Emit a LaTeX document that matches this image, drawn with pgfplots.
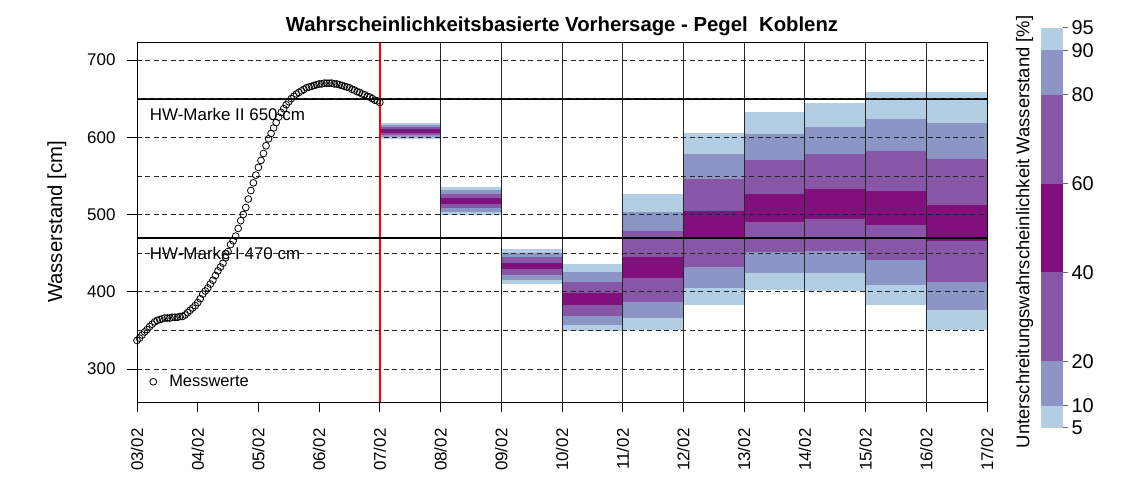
\documentclass[border=0pt]{standalone}
\usepackage{pgfplots}
\usepackage{pgfplotstable}
\pgfplotsset{compat=1.18}
\usepackage{fontspec}
\setmainfont{Liberation Sans}
\usetikzlibrary{calc}
\definecolor{cA}{HTML}{B3CDE3}
\definecolor{cB}{HTML}{8C96C6}
\definecolor{cC}{HTML}{8856A7}
\definecolor{cD}{HTML}{810F7C}

\pgfplotstableread{
d e q05 q10 q20 q40 q60 q80 q90 q95
4 5 597.7 600.3 602.9 605.1 610.7 613.3 615.9 618.9
5 6 499.7 503.6 508.0 513.6 521.0 526.5 531.7 535.2
6 7 410.4 415.2 421.3 429.1 437.6 444.6 449.8 454.9
7 8 349.6 357.3 368.2 383.2 398.0 412.6 425.5 435.9
8 9 350.5 365.6 387.1 417.4 445.3 478.6 503.6 526.5
9 10 382.8 404.5 431.6 471.0 504.5 546.0 578.3 605.9
10 11 402.3 424.0 451.1 490.3 526.5 570.6 604.2 632.3
11 12 401.4 424.0 453.1 493.8 532.6 578.3 613.7 643.9
12 13 382.8 409.1 441.1 486.4 530.4 582.2 623.6 658.6
13 14 350.5 376.4 413.0 465.5 512.3 571.8 618.8 659.0
}\boxdata

\pgfplotstableread{
h v
0 337
1 340
2 344
3 348
4 351
5 355
6 358
7 361
8 363
9 364
10 365
11 366
12 366
13 366
14 367
15 367
16 367
17 368
18 368
19 370
20 373
21 376
22 379
23 382
24 386
25 391
26 397
27 401
28 405
29 410
30 415
31 421
32 427
33 432
34 437
35 444
36 452
37 461
38 466
39 472
40 482
41 492
42 500
43 509
44 520
45 531
46 541
47 551
48 561
49 570
50 579
51 589
52 598
53 605
54 612
55 619
56 626
57 632
58 637
59 642
60 646
61 650
62 653
63 656
64 658
65 660
66 662
67 664
68 665
69 666
70 667
71 668
72 669
73 669
74 670
75 670
76 670
77 670
78 669
79 669
80 668
81 667
82 666
83 665
84 664
85 662
86 661
87 659
88 658
89 656
90 655
91 653
92 652
93 650
94 648
95 647
96 645
}\messdata

\newcommand{\getq}[2]{\pgfplotstablegetelem{#1}{#2}\of\boxdata\edef\tmpv{\pgfplotsretval}}

\begin{document}
\begin{tikzpicture}[font=\fontsize{17}{20}\selectfont]
\begin{axis}[name=ax, scale only axis, width=850bp, height=360bp,
  xmin=0, xmax=14, ymin=257.3, ymax=723.3,
  xtick={0,...,14},
  xticklabels={03/02,04/02,05/02,06/02,07/02,08/02,09/02,10/02,11/02,12/02,13/02,14/02,15/02,16/02,17/02},
  xticklabel style={rotate=90, anchor=east, font=\fontsize{17}{20}\selectfont},
  xticklabel shift=13bp,
  yticklabel shift=8bp,
  ytick={300,400,500,600,700}, minor ytick={350,450,550,650},
  ymajorgrids, yminorgrids,
  major grid style={black!85, line width=0.7bp, dash pattern=on 5bp off 3.5bp},
  minor grid style={black!85, line width=0.7bp, dash pattern=on 5bp off 3.5bp},
  tick pos=left, tick align=outside, major tick length=10bp, minor tick length=0pt,
  tick style={black, line width=0.8bp},
  axis line style={black, line width=0.8bp},
  axis on top,
  /pgf/number format/assume math mode=true,
  ylabel={Wasserstand [cm]},
  ylabel style={at={(axis description cs:-0.079,0.5)}, anchor=south, rotate=0, font=\fontsize{20.4}{24}\selectfont},
  title={Wahrscheinlichkeitsbasierte Vorhersage - Pegel~ Koblenz},
  title style={font=\fontsize{20.4}{24}\selectfont\bfseries, at={(axis description cs:0.5,1)}, anchor=south, yshift=-3bp},
  legend style={at={(axis description cs:0.006,0.024)}, anchor=south west, draw=none, fill=white, inner sep=3bp, font=\fontsize{16.5}{19}\selectfont},
  legend image code/.code={\path[draw=none, fill=none] (-8bp,-4bp) rectangle (14bp,4bp); \draw[#1] plot coordinates {(0bp,0bp)};},
  legend cell align=left,
  clip=true,
]
\pgfplotsinvokeforeach{0,...,9}{
  \getq{#1}{d}\let\xa\tmpv
  \getq{#1}{e}\let\xb\tmpv
  \getq{#1}{q05}\let\qa\tmpv
  \getq{#1}{q10}\let\qb\tmpv
  \getq{#1}{q20}\let\qc\tmpv
  \getq{#1}{q40}\let\qd\tmpv
  \getq{#1}{q60}\let\qe\tmpv
  \getq{#1}{q80}\let\qf\tmpv
  \getq{#1}{q90}\let\qg\tmpv
  \getq{#1}{q95}\let\qh\tmpv
  \edef\doit{%
   \noexpand\addplot[fill=cA, draw=none, forget plot] coordinates {(\xa,\qa) (\xb,\qa) (\xb,\qb) (\xa,\qb)};
   \noexpand\addplot[fill=cB, draw=none, forget plot] coordinates {(\xa,\qb) (\xb,\qb) (\xb,\qc) (\xa,\qc)};
   \noexpand\addplot[fill=cC, draw=none, forget plot] coordinates {(\xa,\qc) (\xb,\qc) (\xb,\qd) (\xa,\qd)};
   \noexpand\addplot[fill=cD, draw=none, forget plot] coordinates {(\xa,\qd) (\xb,\qd) (\xb,\qe) (\xa,\qe)};
   \noexpand\addplot[fill=cC, draw=none, forget plot] coordinates {(\xa,\qe) (\xb,\qe) (\xb,\qf) (\xa,\qf)};
   \noexpand\addplot[fill=cB, draw=none, forget plot] coordinates {(\xa,\qf) (\xb,\qf) (\xb,\qg) (\xa,\qg)};
   \noexpand\addplot[fill=cA, draw=none, forget plot] coordinates {(\xa,\qg) (\xb,\qg) (\xb,\qh) (\xa,\qh)};
  }\doit
}
% day separators
\pgfplotsinvokeforeach{5,...,13}{
  \addplot[black!85, line width=0.8bp, forget plot] coordinates {(#1,257.3) (#1,723.3)};
}
\addplot[red, line width=1.8bp, forget plot] coordinates {(4,257.3) (4,723.3)};
% HW marks
\addplot[black, line width=1.8bp, forget plot] coordinates {(0,650) (14,650)};
\addplot[black, line width=1.8bp, forget plot] coordinates {(0,470) (14,470)};
\node[anchor=west, inner sep=0pt] at (axis cs:0.21,630) {HW-Marke II 650 cm};
\node[anchor=west, inner sep=0pt] at (axis cs:0.21,450) {HW-Marke I 470 cm};
% measured
\addplot[only marks, mark=o, mark size=3.4bp, mark options={line width=0.8bp, black}] table[x expr=\thisrow{h}/24, y=v] {\messdata};
\addlegendentry{Messwerte}
\end{axis}
% colour scale
\begin{axis}[name=cb, scale only axis, width=22bp, height=400bp,
  at={($(ax.north east)+(54bp,14bp)$)}, anchor=north west,
  xmin=0, xmax=1, ymin=5, ymax=95,
  hide x axis, axis y line*=right,
  y axis line style={draw=none},
  ytick={5,10,20,40,60,80,90,95},
  yticklabel pos=right,
  yticklabel style={font=\fontsize{20}{24}\selectfont},
  tick align=outside, major tick length=5bp,
  ytick style={black!60, line width=1bp},
  /pgf/number format/assume math mode=true,
  ylabel={Unterschreitungswahrscheinlichkeit Wasserstand [\%]},
  ylabel style={at={(axis description cs:-0.2,0.49)}, anchor=south, rotate=0, font=\fontsize{18.5}{22}\selectfont},
]
\addplot[fill=cA, draw=none] coordinates {(0,5) (1,5) (1,10) (0,10)};
\addplot[fill=cB, draw=none] coordinates {(0,10) (1,10) (1,20) (0,20)};
\addplot[fill=cC, draw=none] coordinates {(0,20) (1,20) (1,40) (0,40)};
\addplot[fill=cD, draw=none] coordinates {(0,40) (1,40) (1,60) (0,60)};
\addplot[fill=cC, draw=none] coordinates {(0,60) (1,60) (1,80) (0,80)};
\addplot[fill=cB, draw=none] coordinates {(0,80) (1,80) (1,90) (0,90)};
\addplot[fill=cA, draw=none] coordinates {(0,90) (1,90) (1,95) (0,95)};
\end{axis}
\pgfresetboundingbox
\useasboundingbox ($(ax.south west)+(-137bp,-82bp)$) rectangle ($(ax.north east)+(138bp,42bp)$);
\end{tikzpicture}
\end{document}
